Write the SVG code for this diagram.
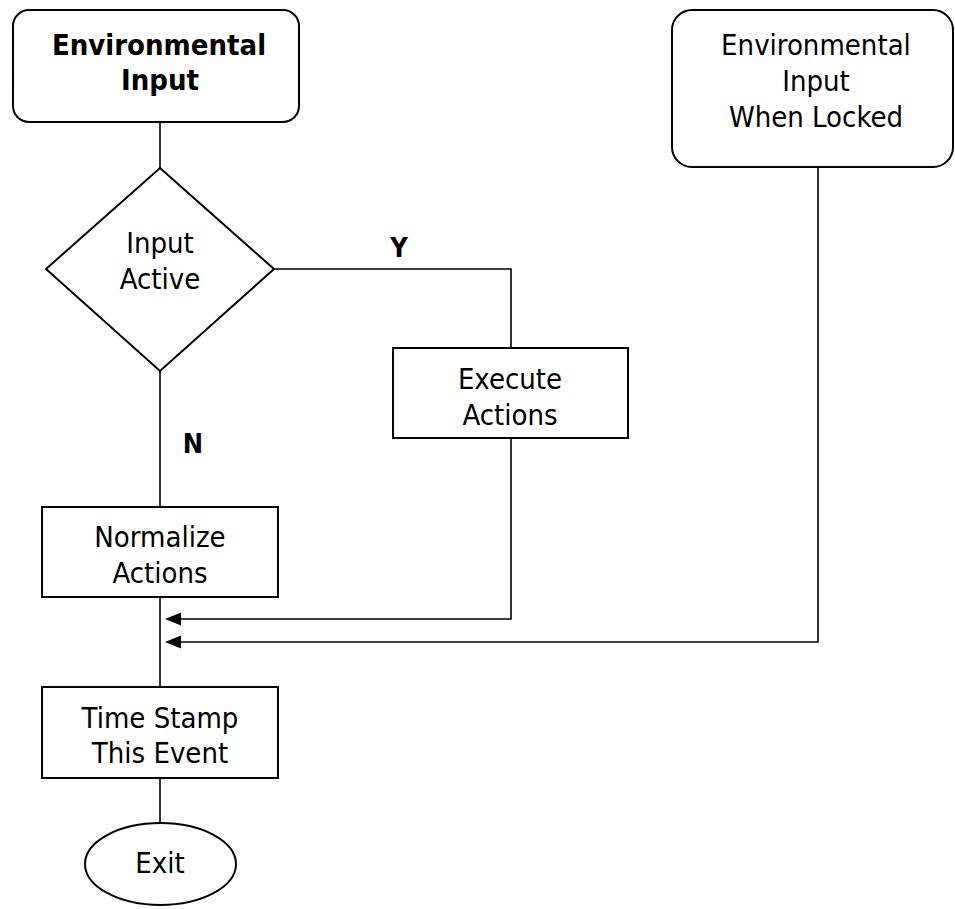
<svg xmlns="http://www.w3.org/2000/svg" width="955" height="909" viewBox="0 0 955 909">
<style>
.box{fill:#fff;stroke:#000;stroke-width:2}
.ln{fill:none;stroke:#000;stroke-width:1.6}
text{font-family:"DejaVu Sans Condensed","DejaVu Sans",sans-serif;font-stretch:condensed;font-size:29px;fill:#000;text-anchor:middle}
.b{font-weight:bold}
.lbl{font-weight:bold;font-size:27px}
</style>
<defs>
<marker id="ah" viewBox="0 0 16 14" refX="0" refY="7" markerWidth="16" markerHeight="14" markerUnits="userSpaceOnUse" orient="auto-start-reverse">
<path d="M0,0 L16,7 L0,14 Z" fill="#000"/>
</marker>
</defs>
<rect width="955" height="909" fill="#fff"/>
<g id="connectors">
<path class="ln" d="M160,122 V168"/>
<path class="ln" d="M160,371 V507"/>
<path class="ln" d="M160,597 V687"/>
<path class="ln" d="M160,778 V823"/>
<path class="ln" d="M274,269 H511 V348"/>
<path class="ln" d="M511,439 V619 H181" />
<path class="ln" d="M818,167 V642 H181" />
<path d="M165,619 L181,612.5 L181,625.5 Z" fill="#000"/>
<path d="M165,642 L181,635.5 L181,648.5 Z" fill="#000"/>
<text class="lbl" x="399" y="257">Y</text>
<text class="lbl" x="193" y="453">N</text>
</g>
<g id="env-input">
<rect class="box" x="13" y="10" width="286" height="112" rx="16"/>
<text class="b" x="159" y="55">Environmental</text>
<text class="b" x="160" y="90">Input</text>
</g>
<g id="env-input-locked">
<rect class="box" x="672" y="10" width="281" height="157" rx="20"/>
<text x="816" y="55">Environmental</text>
<text x="816" y="91">Input</text>
<text x="816" y="127">When Locked</text>
</g>
<g id="input-active">
<polygon class="box" points="160,168 274,269 160,371 46,269"/>
<text x="160" y="253">Input</text>
<text x="160" y="289">Active</text>
</g>
<g id="execute-actions">
<rect class="box" x="393" y="348" width="235" height="90"/>
<text x="510" y="389">Execute</text>
<text x="510" y="425">Actions</text>
</g>
<g id="normalize-actions">
<rect class="box" x="42" y="507" width="236" height="90"/>
<text x="160" y="547">Normalize</text>
<text x="160" y="583">Actions</text>
</g>
<g id="time-stamp">
<rect class="box" x="42" y="687" width="236" height="91"/>
<text x="160" y="728">Time Stamp</text>
<text x="160" y="763">This Event</text>
</g>
<g id="exit">
<ellipse class="box" cx="160.5" cy="864" rx="75.5" ry="41"/>
<text x="160" y="873">Exit</text>
</g>
</svg>
